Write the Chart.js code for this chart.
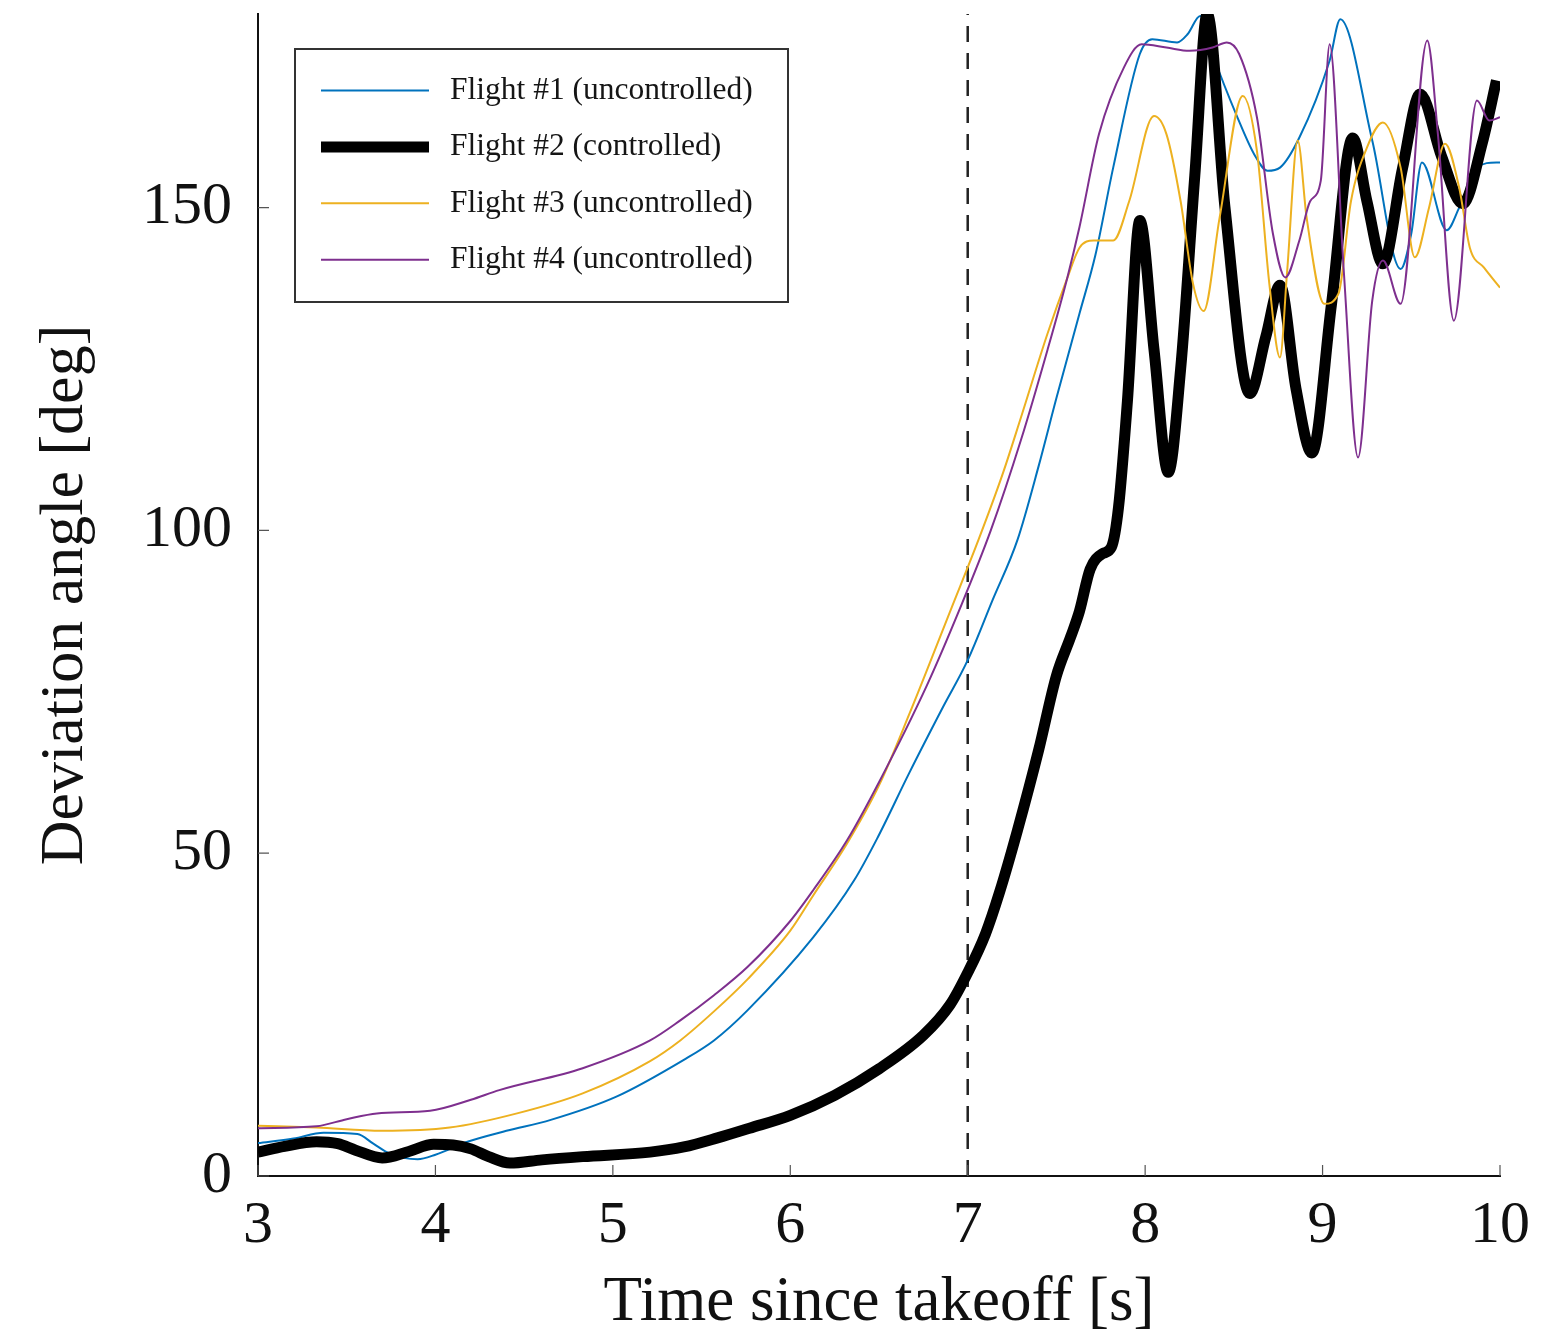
<!DOCTYPE html>
<html>
<head>
<meta charset="utf-8">
<script src="https://cdn.jsdelivr.net/npm/chart.js@4.4.0/dist/chart.umd.min.js"></script>
<style>
  body { margin: 0; background: #fff; }
  #wrap { width: 1541px; height: 1341px; }
</style>
</head>
<body>
<div id="wrap"><canvas id="angleChart" width="1541" height="1341"></canvas></div>
<script>
// Flight #1 (uncontrolled)
const flight1Time = [3.0, 3.2, 3.37, 3.56, 3.65, 3.74, 3.9, 4.0, 4.18, 4.4, 4.65, 5.02, 5.4, 5.57, 5.76, 6.13, 6.36, 6.49, 6.67, 6.86, 7.0, 7.14, 7.28, 7.4, 7.5, 7.63, 7.72, 7.82, 7.97, 8.04, 8.18, 8.24, 8.31, 8.38, 8.52, 8.62, 8.69, 8.76, 8.87, 9.04, 9.1, 9.28, 9.44, 9.5, 9.56, 9.7, 9.77, 9.87, 9.98, 10.0];
const flight1Angle = [5.1, 5.8, 6.7, 6.5, 5.0, 3.5, 2.6, 3.3, 5.3, 7.0, 8.7, 12.3, 18.0, 21.0, 25.7, 37.0, 45.8, 52.3, 62.4, 72.6, 79.9, 89.2, 98.5, 110.0, 120.5, 133.6, 142.7, 156.2, 173.8, 176.1, 175.6, 176.9, 179.7, 173.8, 164.0, 158.0, 155.7, 156.2, 160.9, 172.8, 179.2, 160.4, 140.5, 146.0, 157.0, 146.5, 150.0, 156.2, 157.0, 157.0];

// Flight #2 (controlled)
const flight2Time = [3.0, 3.15, 3.33, 3.45, 3.55, 3.7, 3.85, 3.99, 4.1, 4.2, 4.3, 4.42, 4.6, 4.83, 5.21, 5.4, 5.59, 5.77, 6.0, 6.25, 6.5, 6.75, 6.9, 7.0, 7.1, 7.18, 7.28, 7.4, 7.5, 7.58, 7.63, 7.69, 7.76, 7.81, 7.85, 7.9, 7.97, 8.05, 8.13, 8.2, 8.28, 8.35, 8.45, 8.59, 8.68, 8.76, 8.85, 8.94, 9.05, 9.17, 9.25, 9.34, 9.45, 9.55, 9.67, 9.79, 9.9, 9.98];
const flight2Angle = [3.7, 4.6, 5.3, 5.0, 4.0, 2.8, 3.8, 4.9, 4.8, 4.2, 3.0, 2.0, 2.5, 3.0, 3.7, 4.5, 5.9, 7.4, 9.4, 12.5, 16.6, 21.8, 26.5, 31.5, 37.5, 44.0, 53.5, 66.0, 77.5, 83.5, 87.5, 94.0, 96.4, 97.4, 103.6, 120.0, 148.0, 128.0, 109.0, 125.0, 155.0, 180.0, 150.0, 121.2, 130.0, 138.0, 122.0, 112.0, 135.0, 160.8, 151.0, 141.3, 156.0, 167.6, 158.0, 150.6, 160.0, 169.7];

// Flight #3 (uncontrolled)
const flight3Time = [3.0, 3.33, 3.7, 4.08, 4.46, 4.83, 5.21, 5.38, 5.57, 5.76, 6.0, 6.13, 6.32, 6.5, 6.67, 6.91, 7.06, 7.2, 7.3, 7.45, 7.56, 7.63, 7.71, 7.82, 7.91, 8.05, 8.12, 8.2, 8.27, 8.33, 8.42, 8.55, 8.63, 8.7, 8.76, 8.8, 8.86, 8.91, 9.01, 9.09, 9.16, 9.25, 9.34, 9.44, 9.52, 9.6, 9.69, 9.77, 9.83, 9.91, 10.0];
const flight3Angle = [7.8, 7.5, 7.0, 7.5, 9.7, 12.8, 17.8, 21.0, 25.5, 30.5, 38.0, 43.5, 51.5, 60.5, 71.5, 88.1, 98.5, 109.0, 117.5, 130.5, 139.0, 143.8, 144.9, 144.9, 151.0, 164.2, 161.4, 151.0, 138.2, 134.0, 148.5, 167.3, 158.8, 138.2, 126.8, 140.0, 160.4, 148.5, 135.1, 136.7, 151.0, 159.3, 163.2, 156.2, 142.3, 150.0, 159.9, 153.1, 143.8, 140.7, 137.6];

// Flight #4 (uncontrolled)
const flight4Time = [3.0, 3.33, 3.5, 3.67, 3.97, 4.2, 4.36, 4.83, 5.21, 5.38, 5.57, 5.76, 6.0, 6.13, 6.32, 6.5, 6.77, 6.95, 7.13, 7.3, 7.45, 7.56, 7.63, 7.74, 7.88, 7.98, 8.12, 8.25, 8.38, 8.46, 8.53, 8.63, 8.72, 8.79, 8.87, 8.93, 8.99, 9.04, 9.12, 9.2, 9.28, 9.34, 9.44, 9.59, 9.65, 9.74, 9.87, 9.94, 10.0];
const flight4Angle = [7.4, 7.7, 8.8, 9.7, 10.1, 11.8, 13.3, 16.7, 21.0, 24.1, 28.0, 32.4, 39.5, 44.3, 52.0, 61.0, 76.0, 87.5, 100.0, 114.0, 128.0, 139.0, 147.0, 161.4, 171.7, 175.3, 174.8, 174.3, 174.8, 175.6, 173.8, 164.0, 146.0, 139.2, 145.0, 151.0, 154.2, 175.3, 140.0, 111.3, 135.6, 141.8, 135.1, 175.9, 161.4, 132.5, 166.6, 163.5, 164.0];

// controller switched on
const controlStart = 7;

const xTicks = [3, 4, 5, 6, 7, 8, 9, 10];
const yTicks = [0, 50, 100, 150];

const serif = "'Liberation Serif', 'Times New Roman', serif";

const toPoints = (xs, ys) => xs.map((t, i) => ({ x: t, y: ys[i] }));

// legend drawn inside the plot, like the pgfplots one
const boxLegend = {
    id: 'boxLegend',
    afterDraw(chart) {
        const ctx = chart.ctx;
        const items = chart.data.datasets.filter(d => d.label);
        ctx.save();
        ctx.fillStyle = '#fff';
        ctx.fillRect(295, 49, 493, 253);
        ctx.strokeStyle = '#333';
        ctx.lineWidth = 2;
        ctx.strokeRect(295, 49, 493, 253);
        ctx.font = `31.5px ${serif}`;
        ctx.textBaseline = 'middle';
        items.forEach((d, i) => {
            const yy = 90.5 + i * 56.4;
            ctx.beginPath();
            ctx.strokeStyle = d.borderColor;
            ctx.lineWidth = d.borderWidth;
            ctx.moveTo(321, yy);
            ctx.lineTo(429, yy);
            ctx.stroke();
            ctx.fillStyle = '#151515';
            ctx.fillText(d.label, 450, yy);
        });
        ctx.restore();
    }
};

// ticks pointing into the plot area
const innerTicks = {
    id: 'innerTicks',
    afterDraw(chart) {
        const { ctx, scales: { x, y } } = chart;
        ctx.save();
        ctx.strokeStyle = '#555';
        ctx.lineWidth = 1.2;
        ctx.beginPath();
        x.ticks.forEach(t => {
            const px = x.getPixelForValue(t.value);
            ctx.moveTo(px, y.bottom);
            ctx.lineTo(px, y.bottom - 11);
        });
        y.ticks.forEach(t => {
            const py = y.getPixelForValue(t.value);
            ctx.moveTo(x.left, py);
            ctx.lineTo(x.left + 11, py);
        });
        ctx.stroke();
        ctx.restore();
    }
};

new Chart(document.getElementById('angleChart'), {
    type: 'line',
    data: {
        datasets: [
            { label: 'Flight #1 (uncontrolled)', data: toPoints(flight1Time, flight1Angle), borderColor: '#0072BD', borderWidth: 2, order: 4 },
            { label: 'Flight #2 (controlled)', data: toPoints(flight2Time, flight2Angle), borderColor: '#000000', borderWidth: 11, order: 3 },
            { label: 'Flight #3 (uncontrolled)', data: toPoints(flight3Time, flight3Angle), borderColor: '#EDB120', borderWidth: 2, order: 2 },
            { label: 'Flight #4 (uncontrolled)', data: toPoints(flight4Time, flight4Angle), borderColor: '#7E2F8E', borderWidth: 2, order: 1 },
            { label: '', data: [{ x: controlStart, y: 0 }, { x: controlStart, y: 180 }], borderColor: '#222', borderWidth: 2.5, borderDash: [16, 11], cubicInterpolationMode: 'default', tension: 0, order: 5 }
        ]
    },
    options: {
        responsive: false,
        animation: false,
        events: [],
        layout: { padding: { left: 0, top: 14, right: 41, bottom: 0 } },
        elements: {
            point: { radius: 0 },
            line: { cubicInterpolationMode: 'monotone', fill: false, borderJoinStyle: 'round', borderCapStyle: 'butt' }
        },
        plugins: { legend: { display: false }, tooltip: { enabled: false } },
        scales: {
            x: {
                type: 'linear',
                min: 3,
                max: 10,
                afterBuildTicks: s => { s.ticks = xTicks.map(v => ({ value: v })); },
                afterFit: s => { s.height = 165; s.paddingLeft = 0; s.paddingRight = 0; },
                grid: { drawOnChartArea: false, drawTicks: false },
                border: { color: '#111', width: 2 },
                ticks: { color: '#111', font: { family: serif, size: 60 }, padding: 14, maxRotation: 0 },
                title: { display: true, text: 'Time since takeoff [s]', color: '#111', font: { family: serif, size: 63 }, padding: { top: 0, bottom: 0 } }
            },
            y: {
                type: 'linear',
                min: 0,
                max: 180,
                afterBuildTicks: s => { s.ticks = yTicks.map(v => ({ value: v })); },
                afterFit: s => { s.width = 258; s.paddingTop = 0; s.paddingBottom = 0; },
                grid: { drawOnChartArea: false, drawTicks: false },
                border: { color: '#111', width: 2 },
                ticks: { color: '#111', font: { family: serif, size: 60 }, padding: 26 },
                title: { display: true, text: 'Deviation angle [deg]', color: '#111', font: { family: serif, size: 62 }, padding: { top: 29, bottom: 0 } }
            }
        }
    },
    plugins: [innerTicks, boxLegend]
});
</script>
</body>
</html>
